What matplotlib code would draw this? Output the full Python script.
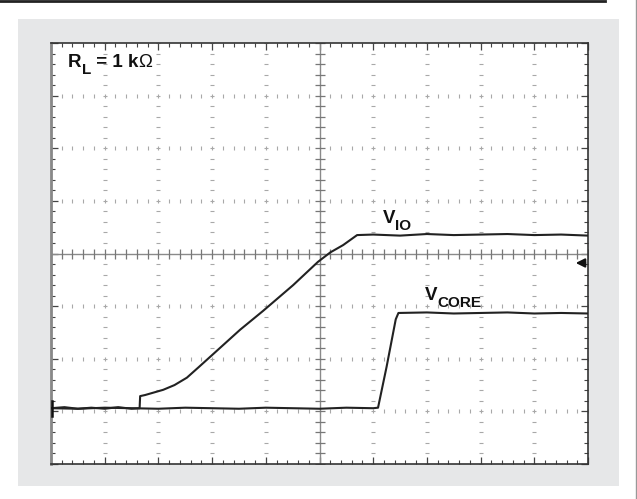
### scope capture: V_IO and V_CORE start-up with 1 kOhm load
import numpy as np
import matplotlib.pyplot as plt
from matplotlib.patches import Rectangle
from matplotlib.lines import Line2D

plt.rcParams['font.family'] = 'Liberation Sans'

# traces in screen divisions (10 x 8 graticule)
vio_t = [0.0, 0.25, 0.5, 0.75, 1.0, 1.25, 1.5, 1.65, 1.66, 1.75, 2.09, 2.3, 2.53, 2.75, 3.0, 3.52,
         3.95, 4.51, 4.97, 5.2, 5.44, 5.7, 6.0, 6.5, 7.0, 7.5, 8.0, 8.5, 9.0, 9.5, 10.0]
vio_v = [1.06, 1.08, 1.05, 1.07, 1.05, 1.08, 1.05, 1.06, 1.29, 1.31, 1.41, 1.50, 1.64, 1.84, 2.07, 2.55,
         2.91, 3.40, 3.84, 4.02, 4.16, 4.35, 4.36, 4.34, 4.37, 4.35, 4.36, 4.37, 4.35, 4.36, 4.34]

vcore_t = [0.0, 0.5, 1.0, 1.5, 2.0, 2.5, 3.0, 3.5, 4.0, 4.5, 5.0, 5.5, 6.0, 6.09,
           6.25, 6.42, 6.47, 7.0, 7.5, 8.0, 8.5, 9.0, 9.5, 10.0]
vcore_v = [1.06, 1.05, 1.07, 1.06, 1.05, 1.07, 1.06, 1.05, 1.07, 1.06, 1.05, 1.07, 1.06, 1.07,
           1.85, 2.75, 2.87, 2.88, 2.86, 2.87, 2.88, 2.86, 2.87, 2.86]

fig = plt.figure(figsize=(6.37, 4.99), dpi=100)
fig.patch.set_facecolor('white')
fig.patches.append(Rectangle((18/637, 13/499), 601/637, 467/499, transform=fig.transFigure,
                             facecolor='#e6e7e8', edgecolor='none', zorder=-10))
fig.lines.append(Line2D([0, 0.95], [0.998, 0.998], transform=fig.transFigure, color='#222222', lw=2))
fig.lines.append(Line2D([0.998, 0.998], [0, 1], transform=fig.transFigure, color='#999999', lw=1))

ax = fig.add_axes([51/637, 35/499, 537/637, 421/499])
ax.set_zorder(1)
ax.set_facecolor('white')
ax.set_xlim(0, 10)
ax.set_ylim(0, 8)

# graticule: dotted grid lines with minor marks
minor = np.arange(0, 10.01, 0.2)
minor_y = np.arange(0, 8.01, 0.2)
for gx in range(1, 10):
    if gx == 5:
        continue
    ax.plot(np.full_like(minor_y, gx), minor_y, ls='none', marker='_', ms=3, mew=0.8, color='#a8a8a8')
for gy in range(1, 8):
    if gy == 4:
        continue
    ax.plot(minor, np.full_like(minor, gy), ls='none', marker='|', ms=3, mew=0.8, color='#a8a8a8')

# centre axes
ax.axhline(4, color='#8a8a8a', lw=1)
ax.axvline(5, color='#8a8a8a', lw=1)
ax.plot(minor, np.full_like(minor, 4), ls='none', marker='|', ms=7, mew=0.9, color='#777777')
ax.plot(np.full_like(minor_y, 5), minor_y, ls='none', marker='_', ms=7, mew=0.9, color='#777777')

ax.set_xticks(np.arange(0, 11, 1))
ax.set_yticks(np.arange(0, 9, 1))
ax.set_xticks(minor, minor=True)
ax.set_yticks(minor_y, minor=True)
ax.tick_params(which='both', direction='in', top=True, right=True, labelbottom=False,
               labelleft=False, color='#444444')
ax.tick_params(which='major', length=5, width=0.9)
ax.tick_params(which='minor', length=3, width=0.8)
for s in ax.spines.values():
    s.set_color('#333333')
    s.set_linewidth(1.2)
ax.spines['left'].set_color('#888888')
ax.spines['left'].set_linewidth(2)

# traces
ax.plot(vio_t, vio_v, color='#222222', lw=1.5, zorder=5)
ax.plot(vcore_t, vcore_v, color='#222222', lw=1.5, zorder=5)

# channel ground marker and trigger arrow
ax.plot([0.02, 0.02], [0.92, 1.2], color='#111111', lw=1.8, zorder=6, clip_on=False)
ax.annotate('', xy=(9.72, 3.82), xytext=(10.0, 3.82),
            arrowprops=dict(arrowstyle='-|>', color='#111111', lw=1.5, mutation_scale=13))

# labels with large scope-style subscripts
def chain(prev, s, dy, size=13.5, weight='bold'):
    return ax.annotate(s, xy=(1, 0), xycoords=prev, xytext=(0, dy), textcoords='offset points',
                       fontsize=size, fontweight=weight, va='bottom', ha='left', color='#111111')

r = ax.text(0.32, 7.55, 'R', fontsize=13.5, fontweight='bold', va='baseline', ha='left', color='#111111')
sub = chain(r, 'L', -4.3, size=11)
eq = chain(sub, ' = 1 k', 4.3)
chain(eq, '\u03a9', 0, weight='normal')

v1 = ax.text(6.18, 4.58, 'V', fontsize=13.5, fontweight='bold', va='baseline', ha='left', color='#111111')
chain(v1, 'IO', -4.3, size=11)
v2 = ax.text(6.96, 3.12, 'V', fontsize=13.5, fontweight='bold', va='baseline', ha='left', color='#111111')
chain(v2, 'CORE', -4.3, size=11)

plt.savefig('out.png', dpi=100, facecolor='white')
